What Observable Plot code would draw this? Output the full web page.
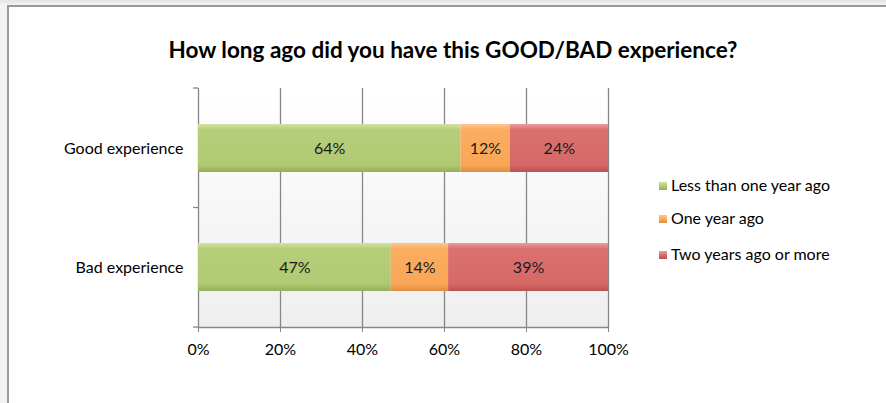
<!DOCTYPE html>
<html><head><meta charset="utf-8">
<script src="https://cdn.jsdelivr.net/npm/d3@7"></script>
<script src="https://cdn.jsdelivr.net/npm/@observablehq/plot@0.6"></script>
<style>
html,body{margin:0;padding:0;background:#fff;}
#wrap{position:relative;width:886px;height:403px;overflow:hidden;background:linear-gradient(to bottom,#e4e4e4,#f3f3f3 5px,#f3f3f3);font-family:Lato,"Open Sans",sans-serif;}
#card{position:absolute;left:7px;top:5px;width:900px;height:420px;background:#fff;border-left:2px solid #9a9a9a;border-top:2px solid #9a9a9a;box-sizing:border-box;}
#title{position:absolute;left:20px;width:866px;top:36px;text-align:center;font-weight:bold;font-size:22.5px;line-height:28px;color:#000;}
#chart{position:absolute;left:0;top:0;}
#legend{position:absolute;left:659px;top:175px;font-size:16px;color:#000;}
.li{position:absolute;left:0;white-space:nowrap;line-height:20px;}
.sw{display:inline-block;width:8px;height:8px;margin-right:4px;vertical-align:1px;}
</style>
</head><body>
<div id="wrap">
  <div id="card"></div>
  <div id="chart"></div>
  <div id="title"></div>
  <div id="legend"></div>
</div>
<script>
const titleText = "How long ago did you have this GOOD/BAD experience?";
const categories = ["Good experience", "Bad experience"];
const series = ["Less than one year ago", "One year ago", "Two years ago or more"];
const goodValues = [64, 12, 24];
const badValues = [47, 14, 39];
const xTicks = [0, 20, 40, 60, 80, 100];
const baseColors = ["#b4cc76", "#fbab5d", "#d86d6c"];

const valuesByCategory = [goodValues, badValues];
const data = categories.flatMap((c, i) => series.map((s, j) => ({category: c, series: s, value: valuesByCategory[i][j]})));

document.getElementById("title").textContent = titleText;

function boundaryTicks(index, scales, values, dims) {
  const top = dims.marginTop, bottom = dims.height - dims.marginBottom;
  const step = (bottom - top) / categories.length;
  const g = d3.create("svg:g");
  d3.range(categories.length + 1).forEach(i => {
    const yy = top + i * step;
    g.append("line").attr("x1", dims.marginLeft - 5).attr("x2", dims.marginLeft)
      .attr("y1", yy).attr("y2", yy).attr("stroke", "#868686").attr("stroke-width", 1.3);
  });
  return g.node();
}

const svg = Plot.plot({
  width: 886,
  height: 403,
  marginLeft: 198,
  marginRight: 278,
  marginTop: 88,
  marginBottom: 76,
  style: {fontFamily: "Lato, 'Open Sans', sans-serif", fontSize: "16px", background: "transparent", color: "#000", overflow: "visible"},
  x: {domain: [0, 100], axis: null, label: null},
  y: {domain: categories, paddingInner: 0.6, paddingOuter: 0.3, axis: null, label: null},
  color: {type: "ordinal", domain: series, range: series.map((s, i) => `url(#grad${i})`)},
  marks: [
    Plot.frame({fill: "url(#bgGrad)", stroke: null}),
    Plot.ruleX(xTicks.slice(1), {stroke: "#878787", strokeWidth: 1.3}),
    Plot.ruleX([0], {stroke: "#878787", strokeWidth: 1.3}),
    Plot.frame({anchor: "bottom", stroke: "#878787", strokeWidth: 1.3}),
    boundaryTicks,
    Plot.axisX(xTicks, {tickFormat: d => d + "%", tickSize: 5, tickPadding: 11, fontSize: 16, stroke: "#878787", fill: "#000", label: null}),
    Plot.axisY({tickSize: 0, tickPadding: 15, fontSize: 16, fill: "#000", label: null}),
    Plot.barX(data, Plot.stackX({y: "category", x: "value", fill: "series", order: null})),
    Plot.text(data, Plot.stackX({y: "category", x: "value", text: d => d.value + "%", order: null, fill: "#1a1a1a", fontSize: 16}))
  ]
});

const gradStops = [
  ["#d2e2a4", "#b6ce79", "#b0c972", "#94ae57"],
  ["#fdc590", "#fbad60", "#f9a757", "#df8b3d"],
  ["#eb9d9c", "#da706f", "#d66968", "#b85251"]
];
const defs = d3.select(svg).insert("defs", ":first-child");
gradStops.forEach((st, i) => {
  const lg = defs.append("linearGradient").attr("id", `grad${i}`).attr("x1", 0).attr("x2", 0).attr("y1", 0).attr("y2", 1);
  [[0, st[0]], [0.12, st[1]], [0.85, st[2]], [1, st[3]]].forEach(([o, c]) => lg.append("stop").attr("offset", o).attr("stop-color", c));
});
const bg = defs.append("linearGradient").attr("id", "bgGrad").attr("x1", 0).attr("x2", 0).attr("y1", 0).attr("y2", 1);
bg.append("stop").attr("offset", 0).attr("stop-color", "#ffffff");
bg.append("stop").attr("offset", 1).attr("stop-color", "#efefef");

document.getElementById("chart").appendChild(svg);

const legend = document.getElementById("legend");
const legendTops = [0, 33, 69];
series.forEach((s, i) => {
  const d = document.createElement("div");
  d.className = "li";
  d.style.top = legendTops[i] + "px";
  d.innerHTML = `<span class="sw" style="background:linear-gradient(${gradStops[i][0]},${baseColors[i]},${gradStops[i][3]})"></span>`;
  d.appendChild(document.createTextNode(s));
  legend.appendChild(d);
});
</script>
</body></html>
